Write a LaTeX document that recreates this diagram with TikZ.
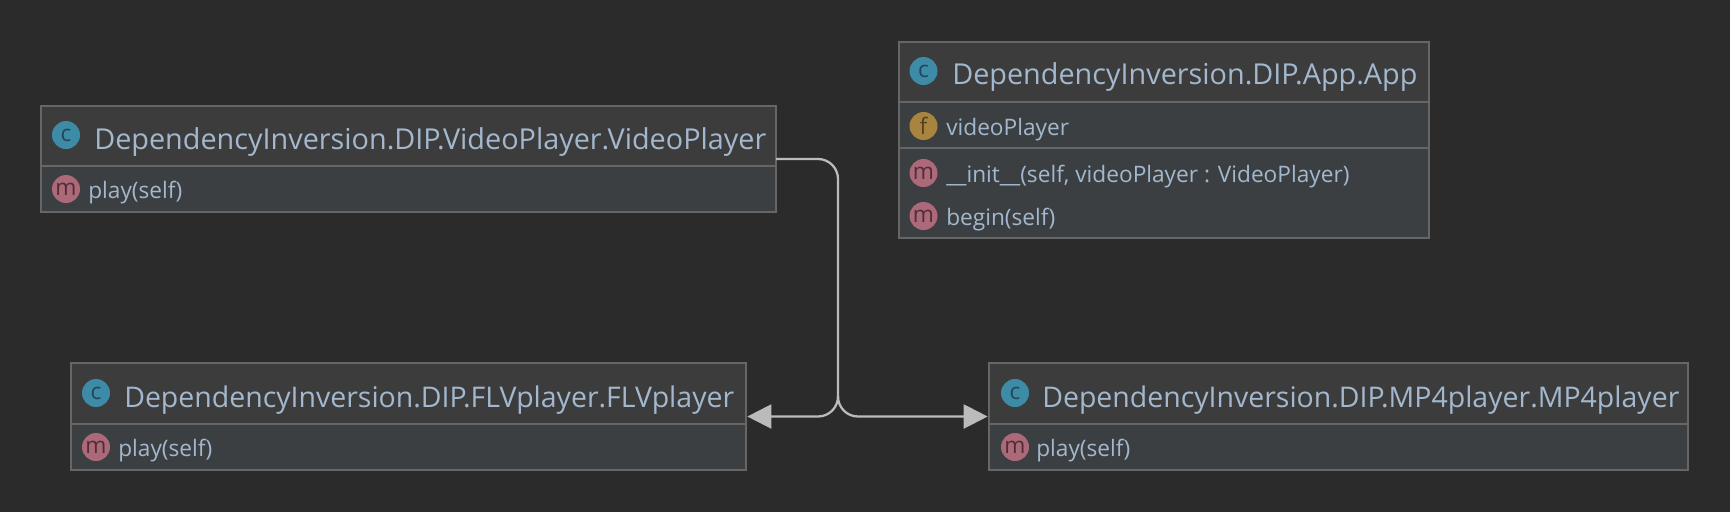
\documentclass[tikz,border=0pt]{standalone}
\usepackage{fontspec}
\setmainfont{Open Sans}
\usepackage{tikz}
\usetikzlibrary{arrows.meta}
\definecolor{bgc}{HTML}{2B2B2B}
\definecolor{headc}{HTML}{3C3C3C}
\definecolor{bodyc}{HTML}{3C3F41}
\definecolor{edgec}{HTML}{666666}
\definecolor{textc}{HTML}{A3B8CE}
\definecolor{linkc}{HTML}{BBBBBB}
\tikzset{box/.style={draw=edgec,line width=1.1pt,fill=bodyc,anchor=north west,inner sep=0pt,outer sep=0pt}}
\tikzset{head/.style={box,fill=headc}}
\tikzset{row/.style={box,fill=bodyc}}
\tikzset{title/.style={anchor=west,inner sep=0pt,text=textc,font=\fontsize{21.6}{22}\selectfont}}
\tikzset{titlen/.style={title,font=\fontsize{21.35}{22}\selectfont}}
\tikzset{member/.style={anchor=west,inner sep=0pt,text=textc,font=\fontsize{17}{18}\selectfont}}
\tikzset{icon/.style={circle,minimum size=21pt,inner sep=0pt,font=\fontsize{17}{17}\selectfont}}
\tikzset{cls/.style={icon,fill={rgb,255:red,61;green,139;blue,166},text={rgb,255:red,35;green,70;blue,90}}}
\tikzset{mth/.style={icon,fill={rgb,255:red,171;green,105;blue,122},text={rgb,255:red,80;green,45;blue,55}}}
\tikzset{fld/.style={icon,fill={rgb,255:red,168;green,132;blue,62},text={rgb,255:red,85;green,65;blue,30}}}
\tikzset{link/.style={draw=linkc,line width=1.7pt,rounded corners=15pt}}
\tikzset{tip/.style={shorten >=1pt,-{Triangle[length=18pt,width=18pt,fill=linkc]}}}

\begin{document}
\begin{tikzpicture}[x=0.75pt,y=-0.75pt]
  \fill[bgc] (0,0) rectangle (1730,512);
  \useasboundingbox (0,0) rectangle (1730,512);
  % video player
  \node[box,minimum width=551.25pt,minimum height=79.5pt] (VP) at (41,106) {};
  \node[head,minimum width=551.25pt,minimum height=45pt] (VPhead) at (41,106) {};
  \node[cls] (VPc) at (66,135) {c};
  \node[title] (VPname) at (94,142) {DependencyInversion.DIP.VideoPlayer.VideoPlayer};
  \node[mth] (VPm) at (66,189) {m};
  \node[member] (VPplay) at (88,193) {play(self)};
  % app
  \node[box,minimum width=397.5pt,minimum height=147pt] (App) at (899,42) {};
  \node[head,minimum width=397.5pt,minimum height=45pt] (Apphead) at (899,42) {};
  \node[row,minimum width=397.5pt,minimum height=34.5pt] (Approw) at (899,102) {};
  \node[cls] (Appc) at (923.5,71) {c};
  \node[title] (Appname) at (952,77) {DependencyInversion.DIP.App.App};
  \node[fld] (Appf) at (923.5,126) {f};
  \node[member] (Appfield) at (946,130) {videoPlayer};
  \node[mth] (Appm) at (923.5,173) {m};
  \node[member] (Appinit) at (946,177) {\_\_init\_\_(self, videoPlayer : VideoPlayer)};
  \node[mth] (Appn) at (923.5,216) {m};
  \node[member] (Appbegin) at (946,220) {begin(self)};
  % flv
  \node[box,minimum width=506.25pt,minimum height=80.25pt] (FLV) at (71,363) {};
  \node[head,minimum width=506.25pt,minimum height=45.75pt] (FLVhead) at (71,363) {};
  \node[cls] (FLVc) at (96,393) {c};
  \node[titlen] (FLVname) at (124,400) {DependencyInversion.DIP.FLVplayer.FLVplayer};
  \node[mth] (FLVm) at (96,447) {m};
  \node[member] (FLVplay) at (118,451) {play(self)};
  % mp4
  \node[box,minimum width=524.25pt,minimum height=80.25pt] (MP) at (989,363) {};
  \node[head,minimum width=524.25pt,minimum height=45.75pt] (MPhead) at (989,363) {};
  \node[cls] (MPc) at (1015,393) {c};
  \node[titlen] (MPname) at (1042,400) {DependencyInversion.DIP.MP4player.MP4player};
  \node[mth] (MPm) at (1015,447) {m};
  \node[member] (MPplay) at (1036,451) {play(self)};
  % links
  \coordinate (branch) at (838,396);
  \draw[link] (VP.east) -| (branch);
  \draw[link,tip] (branch) |- (FLV.east);
  \draw[link,tip] (branch) |- (MP.west);
\end{tikzpicture}
\end{document}
